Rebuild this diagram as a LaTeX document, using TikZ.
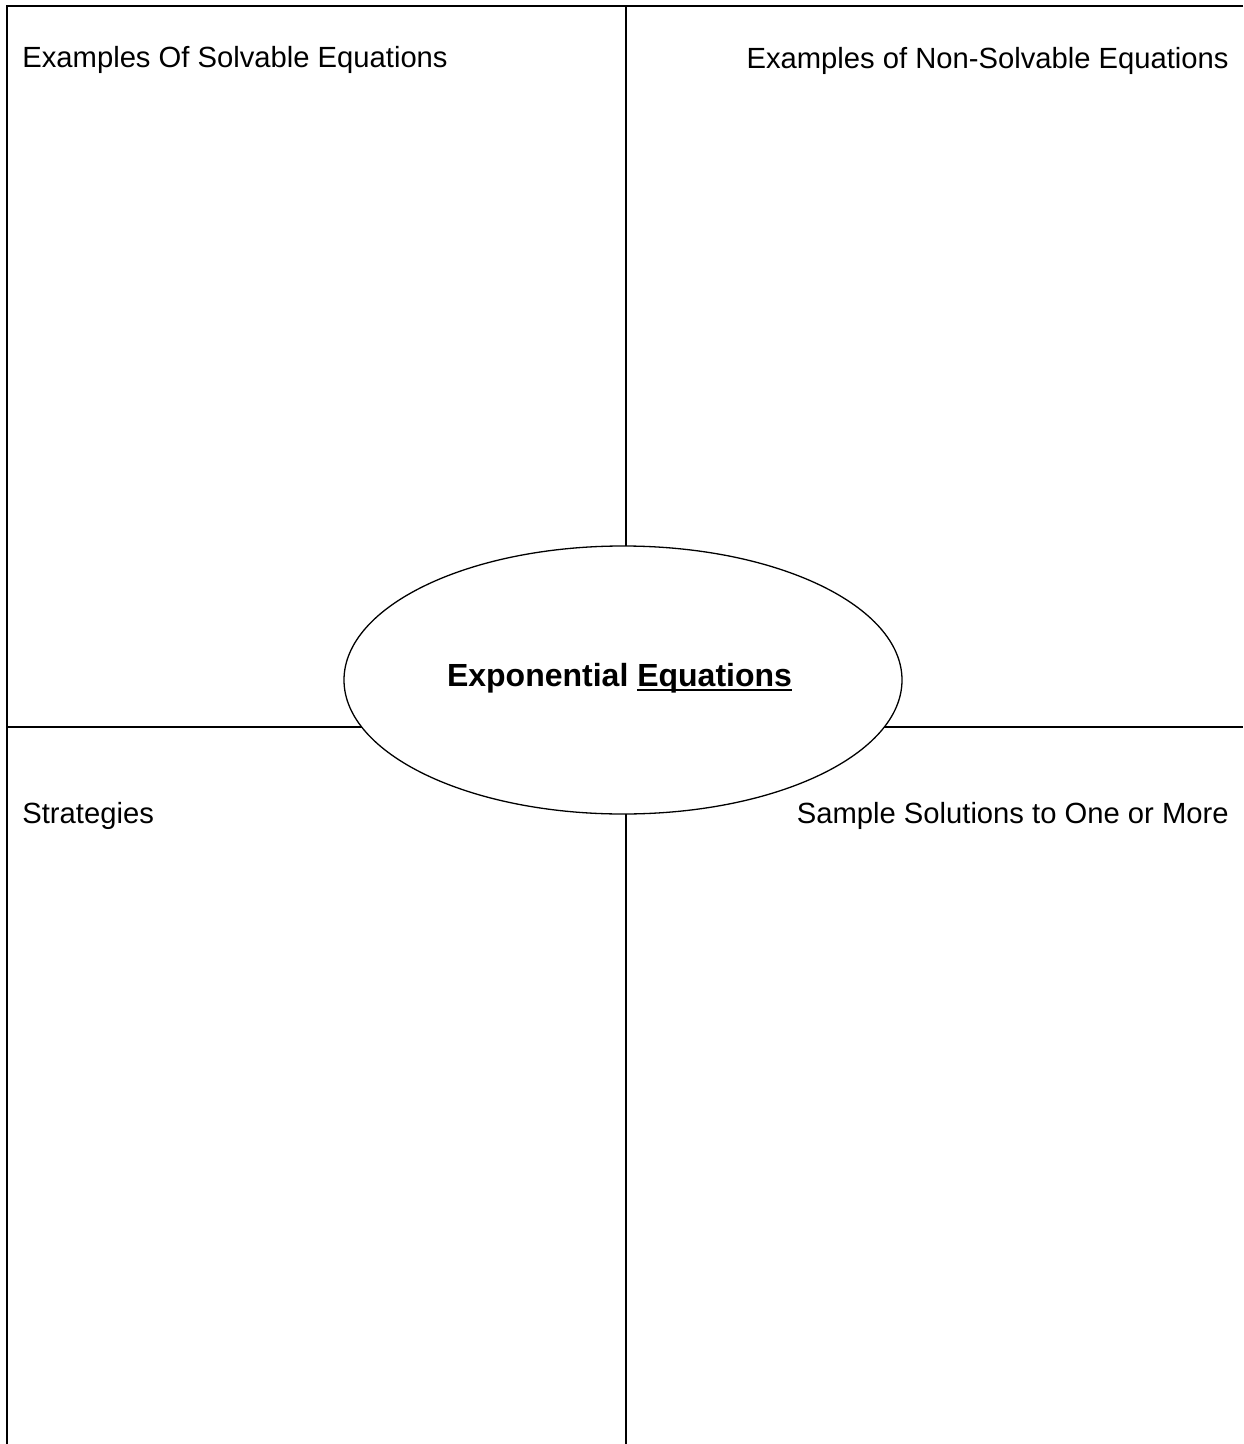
\documentclass[tikz,border=0pt]{standalone}
\usepackage{fontspec}
\setmainfont{Liberation Sans}
\usetikzlibrary{shapes.geometric}
\newcommand{\thickuline}[1]{\setbox0\hbox{#1}\rlap{\rule[-2.6pt]{\wd0}{1pt}}\box0}
\tikzset{
    frame/.style={black, line width=1pt},
    heading/.style={font=\fontsize{14.6}{17}\selectfont, inner sep=0pt},
    topic/.style={ellipse, draw, fill=white, line width=0.65pt, minimum width=279pt, minimum height=134pt, inner sep=0pt, font=\fontsize{16}{19}\bfseries}
}
\begin{document}
\begin{tikzpicture}[x=0.5pt, y=-0.5pt]
                        \useasboundingbox (0,0) rectangle (1243,1444);
                        \coordinate (topleft) at (7,6);
                        \coordinate (topright) at (1243,6);
                        \coordinate (bottomleft) at (7,1444);
                        \coordinate (midtop) at (626,6);
                        \coordinate (midbottom) at (626,1444);
                        \coordinate (midleft) at (7,727);
                        \coordinate (midright) at (1243,727);
                        \draw[frame, line width=1.3pt] (topright) -- (topleft) -- (bottomleft);
                        \draw[frame] (midtop) -- (midbottom);
                        \draw[frame] (midleft) -- (midright);
                        \node[topic] (exp) at (623,680) {\raisebox{5.5pt}{\hspace*{-3.5pt}Exponential \thickuline{Equations}}};
                        \node[heading, anchor=base west] (solvable) at (22,68) {Examples Of Solvable Equations};
                        \node[heading, anchor=base east] (nonsolvable) at (1229,69) {Examples of Non-Solvable Equations};
                        \node[heading, anchor=base west] (strategies) at (22,823) {Strategies};
                        \node[heading, anchor=base east] (samples) at (1229,823) {Sample Solutions to One or More};
                    \end{tikzpicture}
\end{document}
